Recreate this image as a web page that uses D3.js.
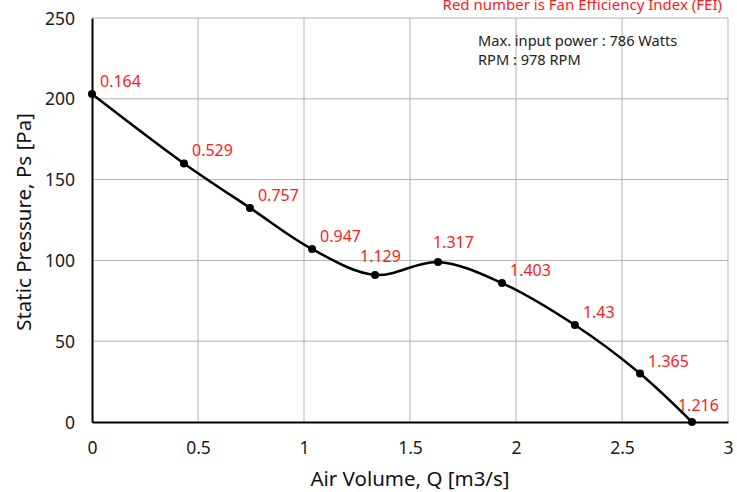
<!DOCTYPE html>
<html><head><meta charset="utf-8">
<script src="https://cdn.jsdelivr.net/npm/d3@7"></script>
<style>body{margin:0;background:#fff}svg{display:block}text{font-family:"Noto Sans",sans-serif}</style>
</head><body><svg id="c" width="737" height="492"></svg>
<script>
const airVolume = [0, 0.434, 0.745, 1.038, 1.335, 1.632, 1.934, 2.278, 2.585, 2.83];
const staticPressure = [203, 160, 132.5, 107, 91, 99, 86, 60, 30, 0];
const fei = ["0.164","0.529","0.757","0.947","1.129","1.317","1.403","1.43","1.365","1.216"];
const xTicks = [0, 0.5, 1, 1.5, 2, 2.5, 3];
const yTicks = [0, 50, 100, 150, 200, 250];
const notes = ["Max. input power : 786 Watts", "RPM : 978 RPM"];
const headNote = "Red number is Fan Efficiency Index (FEI)";

const svg = d3.select("#c");
const m = {l:92, r:9, t:18, b:70};
const W = 737, H = 492;
const x = d3.scaleLinear().domain([0,3]).range([m.l, W - m.r]);
const y = d3.scaleLinear().domain([0,250]).range([H - m.b, m.t]);

// grid
svg.append("g").selectAll("line").data(xTicks.slice(1)).join("line")
  .attr("x1", d=>x(d)).attr("x2", d=>x(d)).attr("y1", y(0)).attr("y2", y(250))
  .attr("stroke", "#b3b3b3").attr("stroke-width", 1);
svg.append("g").selectAll("line").data(yTicks.slice(1)).join("line")
  .attr("x1", x(0)).attr("x2", x(3)).attr("y1", d=>y(d)).attr("y2", d=>y(d))
  .attr("stroke", "#b3b3b3").attr("stroke-width", 1);

// axes
const xAxis = svg.append("g").attr("transform", `translate(0,${y(0)})`)
  .call(d3.axisBottom(x).tickValues(xTicks).tickSize(0).tickPadding(20).tickFormat(d=>String(d)));
const yAxis = svg.append("g").attr("transform", `translate(${x(0)},0)`)
  .call(d3.axisLeft(y).tickValues(yTicks).tickSize(0).tickPadding(17));
[xAxis, yAxis].forEach(g=>{
  g.select(".domain").attr("stroke","#000").attr("stroke-width",2);
  g.selectAll("text").attr("font-size",17.5).attr("fill","#1a1a1a").attr("font-family","Noto Sans, sans-serif");
});
yAxis.selectAll("text").attr("dy","0.35em");

// titles
svg.append("text").attr("x", (x(0)+x(3))/2).attr("y", 486).attr("text-anchor","middle")
  .attr("font-size",20.5).attr("fill","#111").text("Air Volume, Q [m3/s]");
svg.append("text").attr("transform", `translate(31,${(y(0)+y(250))/2+2}) rotate(-90)`).attr("text-anchor","middle")
  .attr("font-size",20.5).attr("fill","#111").text("Static Pressure, Ps [Pa]");

// notes
svg.append("text").attr("x", 722).attr("y", 10).attr("text-anchor","end")
  .attr("font-size",15).attr("fill","#ff1a1a").text(headNote);
svg.append("g").selectAll("text").data(notes).join("text")
  .attr("x", 478).attr("y", (d,i)=>46 + i*19).attr("font-size",14.6).attr("fill","#222").text(d=>d);

// curve
const pts = airVolume.map((v,i)=>[v, staticPressure[i]]);
svg.append("path").datum(pts)
  .attr("d", d3.line().x(d=>x(d[0])).y(d=>y(d[1])).curve(d3.curveCatmullRom.alpha(0.5)))
  .attr("fill","none").attr("stroke","#000").attr("stroke-width",2.5);
svg.append("g").selectAll("circle").data(pts).join("circle")
  .attr("cx", d=>x(d[0])).attr("cy", d=>y(d[1])).attr("r",4).attr("fill","#000");

// labels
const n = pts.length;
svg.append("g").selectAll("text").data(pts).join("text")
  .attr("x", (d,i)=> x(d[0]) + ((i===4)? -15 : (i===5) ? -5 : (i===n-1) ? -14 : 8))
  .attr("y", (d,i)=> y(d[1]) - ((i===4)? 13 : (i===5) ? 14 : (i===n-1) ? 11 : 7))
  .attr("font-size",16).attr("fill","#ff1a1a").text((d,i)=>fei[i]);
</script></body></html>
